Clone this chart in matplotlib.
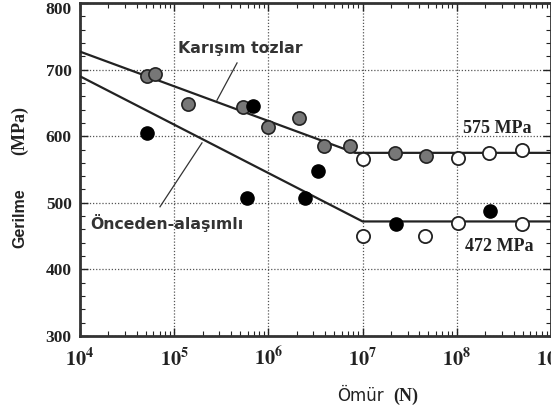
import matplotlib
matplotlib.use("Agg")
import matplotlib.pyplot as plt
import numpy as np
from matplotlib.ticker import LogLocator, MultipleLocator, NullFormatter

plt.rcParams['mathtext.fontset'] = 'stix'
plt.rcParams['mathtext.default'] = 'bf'

# ---- data ----
karisim_fail_N = [5.1e4, 6.2e4, 1.4e5, 5.4e5, 1.0e6, 2.1e6, 3.9e6, 7.4e6, 2.2e7, 4.7e7]
karisim_fail_S = [690, 693, 648, 644, 614, 627, 585, 585, 575, 570]
karisim_run_N = [1.0e7, 1.02e8, 2.2e8, 4.9e8]
karisim_run_S = [566, 567, 575, 579]

onceden_fail_N = [5.1e4, 6.8e5, 5.9e5, 3.4e6, 2.45e6, 2.24e7, 2.24e8]
onceden_fail_S = [605, 645, 507, 547, 507, 468, 488]
onceden_run_N = [1.0e7, 4.6e7, 1.02e8, 4.9e8]
onceden_run_S = [450, 450, 470, 468]

karisim_fit_N = [1e4, 8.3e6, 1e9]
karisim_fit_S = [727, 575, 575]
onceden_fit_N = [1e4, 1.0e7, 1e9]
onceden_fit_S = [690, 472, 472]

y_ticks = [300, 400, 500, 600, 700, 800]
x_ticks = [1e4, 1e5, 1e6, 1e7, 1e8, 1e9]
x_tick_labels = [r'$10^{4}$', r'$10^{5}$', r'$10^{6}$', r'$10^{7}$', r'$10^{8}$', r'$10^{9}$']

W, H = 551, 412
fig = plt.figure(figsize=(W / 100, H / 100), dpi=100)
ax = fig.add_axes([80 / W, 1 - 336 / H, (551 - 80) / W, (336 - 3) / H])

ax.set_xscale('log')
ax.set_xlim(1e4, 1e9)
ax.set_ylim(300, 800)

serif_kw = dict(fontfamily='Liberation Serif', fontweight='bold', color='#222222')

ax.set_xticks(x_ticks)
ax.set_xticklabels(x_tick_labels, fontsize=14.5, color='#222222')
ax.set_yticks(y_ticks)
ax.set_yticklabels([str(v) if v != 800 else '' for v in y_ticks], fontsize=12.5, **serif_kw)
ax.annotate('800', xy=(0, 800), xycoords=('axes fraction', 'data'), xytext=(-6, -5),
            textcoords='offset points', ha='right', va='center', fontsize=12.5, **serif_kw)
ax.xaxis.set_minor_locator(LogLocator(base=10, subs=np.arange(2, 10)))
ax.xaxis.set_minor_formatter(NullFormatter())
ax.yaxis.set_minor_locator(MultipleLocator(20))
ax.grid(True, which='major', color='#555555', linestyle=(0, (1, 1.5)), linewidth=0.9)
ax.tick_params(which='both', direction='in', top=True, right=True, colors='#222222')
ax.tick_params(which='major', length=6, width=1.0)
ax.tick_params(axis='y', which='major', pad=6)
ax.tick_params(axis='x', which='major', pad=8)
ax.tick_params(which='minor', length=3.5, width=0.8)
for s in ax.spines.values():
    s.set_linewidth(2.0)
    s.set_color('#333333')

# fit lines
ax.plot(karisim_fit_N, karisim_fit_S, color='#222222', lw=1.6, zorder=3)
ax.plot(onceden_fit_N, onceden_fit_S, color='#222222', lw=1.6, zorder=3)

# pointer lines
ax.plot([10**5.667, 10**5.454], [710, 654], color='#333333', lw=0.9, zorder=2)
ax.plot([10**5.295, 10**4.849], [590, 494], color='#333333', lw=0.9, zorder=2)

ms = 9.5
ax.plot(karisim_fail_N, karisim_fail_S, 'o', ms=ms, mfc='#777777', mec='#222222', mew=1.2, zorder=4)
ax.plot(onceden_fail_N, onceden_fail_S, 'o', ms=ms, mfc='#000000', mec='#000000', mew=1.0, zorder=4)
ax.plot(karisim_run_N, karisim_run_S, 'o', ms=ms, mfc='white', mec='#222222', mew=1.3, zorder=4)
ax.plot(onceden_run_N, onceden_run_S, 'o', ms=ms, mfc='white', mec='#222222', mew=1.3, zorder=4)

# annotations
sans_kw = dict(fontfamily='DejaVu Sans', fontweight='bold', color='#333333')
ax.text(10**5.04, 732, 'Karışım tozlar', fontsize=11.3, ha='left', va='center', **sans_kw)
ax.text(10**4.106, 470, 'Önceden-alaşımlı', fontsize=11.3, ha='left', va='center', **sans_kw)
ax.text(10**8.066, 612, '575 MPa', fontsize=13, ha='left', va='center', **serif_kw)
ax.text(10**8.087, 434, '472 MPa', fontsize=13, ha='left', va='center', **serif_kw)

# axis labels (mixed fonts)
fig.text(20 / W, 1 - 218 / H, 'Gerilme', rotation=90, fontfamily='Liberation Sans',
         fontweight='bold', fontsize=11.5, ha='center', va='center', color='#222222')
fig.text(20 / W, 1 - 130 / H, '(MPa)', rotation=90, fontsize=13,
         ha='center', va='center', **serif_kw)
fig.text(360 / W, 1 - 396 / H, 'Ömür', fontfamily='DejaVu Sans',
         fontsize=12, ha='center', va='center', color='#222222')
fig.text(406 / W, 1 - 396 / H, '(N)', fontsize=13, ha='center', va='center', **serif_kw)

fig.savefig('out.png', dpi=100)
